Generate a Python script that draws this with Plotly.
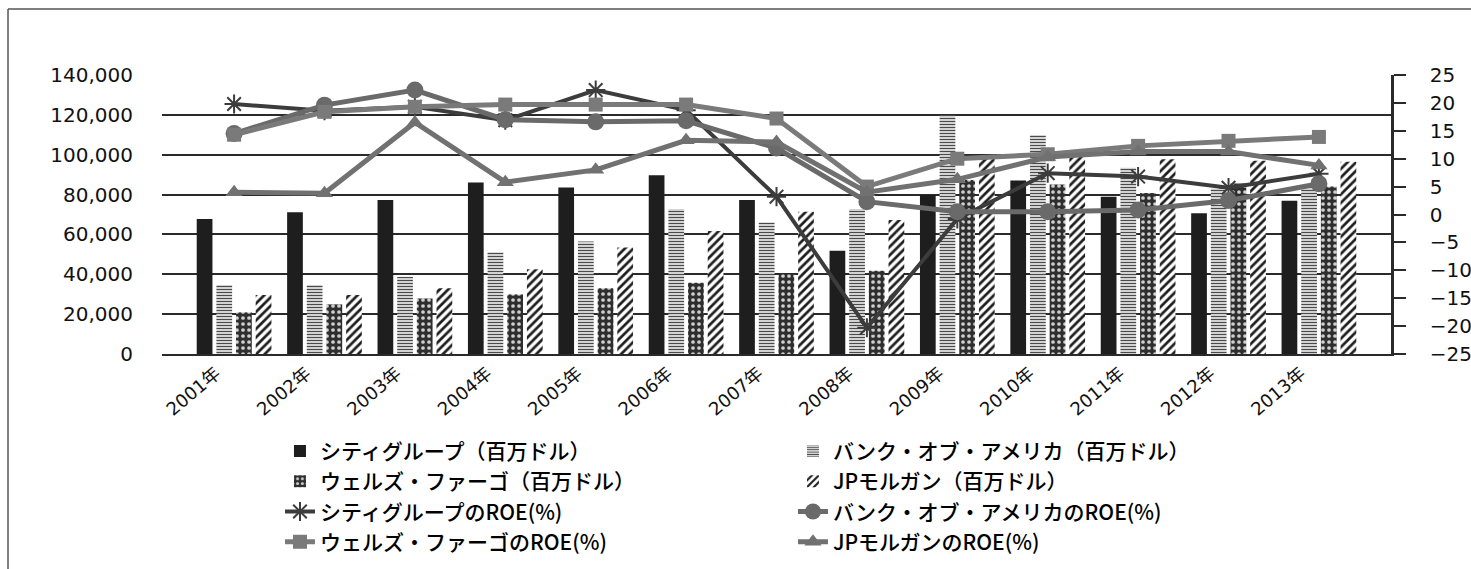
import plotly.graph_objects as go
from plotly.subplots import make_subplots

years = ["2001年", "2002年", "2003年", "2004年", "2005年", "2006年", "2007年",
         "2008年", "2009年", "2010年", "2011年", "2012年", "2013年"]

citi_rev = [67700, 71100, 77300, 86000, 83500, 89700, 77300, 51800, 79800, 87000, 78900, 70600, 76900]
bofa_rev = [34600, 34600, 38800, 51000, 56400, 72800, 66100, 72800, 119900, 109900, 93500, 83000, 84000]
wells_rev = [20900, 24900, 27900, 29900, 33000, 35800, 40000, 41800, 87300, 85000, 80800, 85500, 84000]
jpm_rev = [29600, 29600, 33000, 42500, 53400, 61700, 71400, 67200, 99000, 101000, 97700, 97000, 96500]

citi_roe = [19.8, 18.6, 19.3, 16.9, 22.3, 18.7, 3.2, -20.3, -0.8, 7.4, 6.8, 4.8, 7.3]
bofa_roe = [14.5, 19.6, 22.3, 17.0, 16.6, 16.8, 11.9, 2.3, 0.5, 0.5, 0.8, 2.5, 5.5]
wells_roe = [14.3, 18.4, 19.3, 19.7, 19.7, 19.7, 17.2, 5.0, 10.0, 10.8, 12.3, 13.2, 13.9]
jpm_roe = [4.0, 3.8, 16.5, 5.8, 8.0, 13.3, 13.0, 4.0, 6.3, 10.3, 11.3, 11.3, 8.8]

names_bar = ["シティグループ（百万ドル）", "バンク・オブ・アメリカ（百万ドル）",
             "ウェルズ・ファーゴ（百万ドル）", "JPモルガン（百万ドル）"]
names_roe = ["シティグループのROE(%)", "バンク・オブ・アメリカのROE(%)",
             "ウェルズ・ファーゴのROE(%)", "JPモルガンのROE(%)"]

fig = make_subplots(specs=[[{"secondary_y": True}]])

fig.add_trace(go.Bar(x=years, y=citi_rev, name=names_bar[0],
                     marker=dict(color="#1e1e1e", line=dict(width=0))), secondary_y=False)
fig.add_trace(go.Bar(x=years, y=bofa_rev, name=names_bar[1],
                     marker=dict(color="white", line=dict(width=0),
                                 pattern=dict(shape="-", fgcolor="#4a4a4a", bgcolor="white",
                                              size=3, solidity=0.5, fillmode="replace"))),
              secondary_y=False)
fig.add_trace(go.Bar(x=years, y=wells_rev, name=names_bar[2],
                     marker=dict(color="#333333", line=dict(width=0),
                                 pattern=dict(shape=".", fgcolor="#d0d0d0", bgcolor="#2e2e2e",
                                              size=6, solidity=0.3, fillmode="replace"))),
              secondary_y=False)
fig.add_trace(go.Bar(x=years, y=jpm_rev, name=names_bar[3],
                     marker=dict(color="white", line=dict(width=0),
                                 pattern=dict(shape="/", fgcolor="#1e1e1e", bgcolor="white",
                                              size=6, solidity=0.45, fillmode="replace"))),
              secondary_y=False)

fig.add_trace(go.Scatter(x=years, y=citi_roe, name=names_roe[0], mode="lines+markers",
                         line=dict(color="#3c3c3c", width=4),
                         marker=dict(symbol="asterisk-open", size=16,
                                     line=dict(color="#3c3c3c", width=2))), secondary_y=True)
fig.add_trace(go.Scatter(x=years, y=bofa_roe, name=names_roe[1], mode="lines+markers",
                         line=dict(color="#6a6a6a", width=5),
                         marker=dict(symbol="circle", size=17, color="#6a6a6a")), secondary_y=True)
fig.add_trace(go.Scatter(x=years, y=wells_roe, name=names_roe[2], mode="lines+markers",
                         line=dict(color="#7a7a7a", width=5),
                         marker=dict(symbol="square", size=14, color="#7a7a7a")), secondary_y=True)
fig.add_trace(go.Scatter(x=years, y=jpm_roe, name=names_roe[3], mode="lines+markers",
                         line=dict(color="#717171", width=5),
                         marker=dict(symbol="triangle-up", size=15, color="#717171")), secondary_y=True)

axis_col = "#2a2a2a"
tick_font = dict(family="DejaVu Sans", size=20, color="#111111")

fig.update_layout(
    width=1471, height=569,
    margin=dict(l=162, r=80, t=75, b=215, autoexpand=False),
    paper_bgcolor="white", plot_bgcolor="white",
    barmode="group", bargap=0.13, bargroupgap=0.2,
    showlegend=True,
    legend=dict(orientation="h", x=0.096, xanchor="left", y=-0.275, yanchor="top",
                entrywidth=468, entrywidthmode="pixels", traceorder="normal",
                font=dict(family="Noto Sans CJK JP", size=21, color="#000000", weight=500),
                bgcolor="rgba(0,0,0,0)"),
    font=dict(family="DejaVu Sans", color="#111111"),
)

fig.update_xaxes(domain=[0, 1], automargin=False, showline=True, linecolor=axis_col, linewidth=2,
                 ticks="", tickangle=-40, ticklabelshift=-18,
                 tickfont=dict(family="DejaVu Sans, Noto Sans CJK JP", size=18, color="#111111"),
                 showgrid=False)
fig.update_yaxes(range=[0, 140000], dtick=20000, tickformat=",", showgrid=True, automargin=False,
                 gridcolor=axis_col, gridwidth=2, zeroline=False, showline=False,
                 ticks="", tickfont=tick_font, ticklabelstandoff=28, secondary_y=False)
fig.update_yaxes(range=[-25, 25], dtick=5, showgrid=False, zeroline=False, showline=True,
                 automargin=False,
                 linecolor=axis_col, linewidth=2.5, ticks="outside", ticklen=12, tickwidth=2,
                 tickcolor=axis_col, tickfont=tick_font, ticklabelstandoff=20, secondary_y=True)

# outer frame of the chart (left and top edges)
fig.add_shape(type="line", xref="paper", yref="paper", x0=-0.1253, x1=-0.1253, y0=1.2366, y1=-0.78,
              line=dict(color="#555555", width=1.5))
fig.add_shape(type="line", xref="paper", yref="paper", x0=-0.1253, x1=1.07, y0=1.2366, y1=1.2366,
              line=dict(color="#555555", width=1.5))

fig.write_html("out.html")
